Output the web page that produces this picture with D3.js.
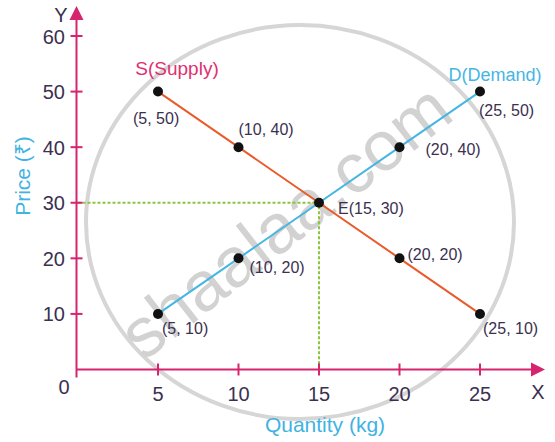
<!DOCTYPE html>
<html><head><meta charset="utf-8">
<script src="https://cdn.jsdelivr.net/npm/d3@7"></script>
<style>body{margin:0;background:#fff}svg{display:block}text{font-family:"Liberation Sans",Arial,sans-serif}</style>
</head><body>
<svg id="c" width="555" height="442"></svg>
<script>
const xTicks = [5, 10, 15, 20, 25];
const yTicks = [10, 20, 30, 40, 50, 60];
const supply = [[5,50],[10,40],[15,30],[20,20],[25,10]];
const demand = [[5,10],[10,20],[15,30],[20,40],[25,50]];
const pointLabels = [
  {p:[5,50], t:"(5, 50)", dx:-25, dy:32},
  {p:[10,40], t:"(10, 40)", dx:0, dy:-12},
  {p:[20,40], t:"(20, 40)", dx:26, dy:8},
  {p:[25,50], t:"(25, 50)", dx:-1, dy:24},
  {p:[15,30], t:"E(15, 30)", dx:19, dy:11},
  {p:[20,20], t:"(20, 20)", dx:8, dy:2},
  {p:[10,20], t:"(10, 20)", dx:11, dy:15},
  {p:[5,10], t:"(5, 10)", dx:4, dy:20},
  {p:[25,10], t:"(25, 10)", dx:3, dy:20}
];
const eq = [15, 30];

const svg = d3.select("#c");
const x = d3.scaleLinear().domain([0, 25]).range([77.5, 480]);
const y = d3.scaleLinear().domain([0, 60]).range([369.5, 36]);
const axisColor = "#d6246e";
const textColor = "#3b3050";

// watermark
svg.append("ellipse").attr("cx", 300).attr("cy", 222).attr("rx", 214).attr("ry", 197)
  .attr("fill", "none").attr("stroke", "#d6d6d6").attr("stroke-width", 4);
svg.append("text").attr("transform", "translate(300,240) rotate(-38)")
  .attr("text-anchor", "middle").attr("font-size", 70).attr("fill", "#d2d2d2").text("shaalaa.com");

// dashed guides
svg.append("path").attr("d", `M${x(0)},${y(eq[1])}H${x(eq[0])}V${y(0)}`)
  .attr("fill", "none").attr("stroke", "#8cc43c").attr("stroke-width", 2).attr("stroke-dasharray", "3,2");

// axes
const ax = svg.append("g").attr("stroke", axisColor).attr("stroke-width", 2);
ax.append("line").attr("x1", x(0) - 1).attr("x2", 535).attr("y1", y(0)).attr("y2", y(0));
ax.append("line").attr("x1", x(0) - 1).attr("x2", x(0) - 1).attr("y1", y(0) + 8).attr("y2", 18);
svg.append("path").attr("d", `M545,${y(0)}L531,${y(0)-7}L531,${y(0)+7}Z`).attr("fill", axisColor);
svg.append("path").attr("d", `M${x(0)-1},6L${x(0)-8},20L${x(0)+6},20Z`).attr("fill", axisColor);
xTicks.forEach(v => ax.append("line").attr("x1", x(v)).attr("x2", x(v)).attr("y1", y(0) - 6).attr("y2", y(0) + 6));
yTicks.forEach(v => ax.append("line").attr("x1", x(0) - 7).attr("x2", x(0) + 5).attr("y1", y(v)).attr("y2", y(v)));

svg.selectAll(".xt").data(xTicks).join("text").attr("x", d => x(d)).attr("y", 401)
  .attr("text-anchor", "middle").attr("font-size", 20).attr("fill", textColor).text(d => d);
svg.selectAll(".yt").data(yTicks).join("text").attr("x", 65).attr("y", d => y(d) + 7.5)
  .attr("text-anchor", "end").attr("font-size", 20).attr("fill", textColor).text(d => d);
svg.append("text").attr("x", 64).attr("y", 394).attr("text-anchor", "middle").attr("font-size", 20).attr("fill", textColor).text("0");
svg.append("text").attr("x", 538).attr("y", 399).attr("text-anchor", "middle").attr("font-size", 20).attr("fill", textColor).text("X");
svg.append("text").attr("x", 61).attr("y", 22).attr("text-anchor", "middle").attr("font-size", 20).attr("fill", textColor).text("Y");

// titles
svg.append("text").attr("x", 325).attr("y", 432).attr("text-anchor", "middle").attr("font-size", 21).attr("fill", "#3fb3e2").text("Quantity (kg)");
svg.append("text").attr("transform", "translate(30,176) rotate(-90)").attr("text-anchor", "middle").attr("font-size", 21).attr("fill", "#3fb3e2").text("Price (₹)");

// lines
const line = d3.line().x(d => x(d[0])).y(d => y(d[1]));
svg.append("path").datum(supply).attr("d", line).attr("fill", "none").attr("stroke", "#ea5a2a").attr("stroke-width", 2);
svg.append("path").datum(demand).attr("d", line).attr("fill", "none").attr("stroke", "#45b6e3").attr("stroke-width", 2);

svg.append("text").attr("x", 177).attr("y", 75).attr("text-anchor", "middle").attr("font-size", 19).attr("fill", "#e0306f").text("S(Supply)");
svg.append("text").attr("x", 495).attr("y", 81).attr("text-anchor", "middle").attr("font-size", 18).attr("fill", "#45b6e3").text("D(Demand)");

// points
const pts = supply.concat(demand.filter(d => d[0] !== 15));
svg.selectAll(".pt").data(pts).join("circle").attr("cx", d => x(d[0])).attr("cy", d => y(d[1])).attr("r", 5).attr("fill", "#111");

svg.selectAll(".pl").data(pointLabels).join("text")
  .attr("x", d => x(d.p[0]) + d.dx).attr("y", d => y(d.p[1]) + d.dy)
  .attr("font-size", 16).attr("fill", textColor)
  .text(d => d.t);
</script>
</body></html>
